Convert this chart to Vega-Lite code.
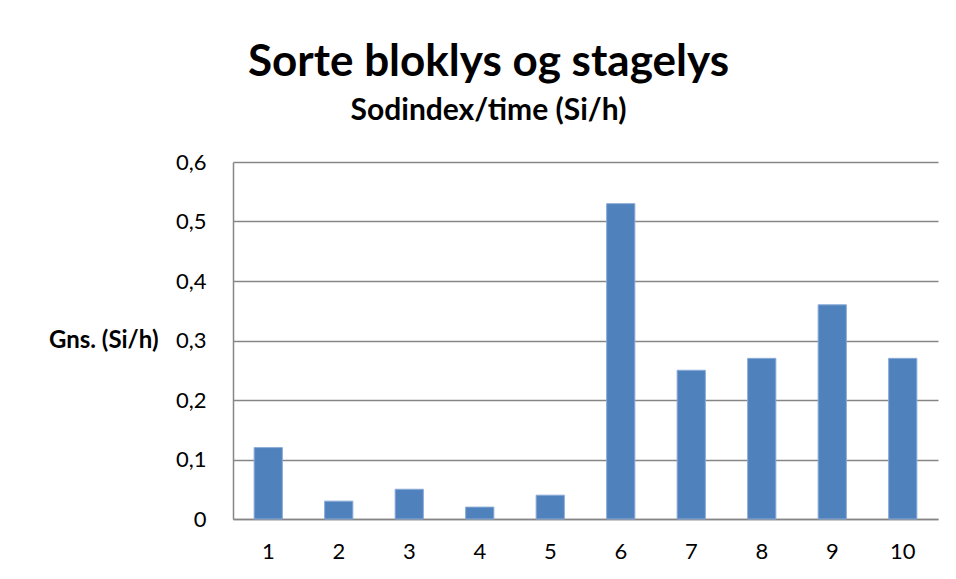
{
  "$schema": "https://vega.github.io/schema/vega-lite/v6.json",
  "width": 705,
  "height": 357,
  "autosize": {"type": "none"},
  "padding": {"left": 233, "top": 162, "right": 18, "bottom": 60},
  "background": "white",
  "data": {"values": [
    {"k": "1", "v": 0.12},
    {"k": "2", "v": 0.03},
    {"k": "3", "v": 0.05},
    {"k": "4", "v": 0.02},
    {"k": "5", "v": 0.04},
    {"k": "6", "v": 0.53},
    {"k": "7", "v": 0.25},
    {"k": "8", "v": 0.27},
    {"k": "9", "v": 0.36},
    {"k": "10", "v": 0.27}
  ]},
  "title": {
    "text": "Sorte bloklys og stagelys",
    "subtitle": "Sodindex/time (Si/h)",
    "anchor": "middle",
    "frame": "group",
    "dx": -97,
    "font": "Lato",
    "fontSize": 44,
    "fontWeight": "bold",
    "color": "black",
    "subtitleFont": "Lato",
    "subtitleFontSize": 30,
    "subtitleFontWeight": "bold",
    "subtitleColor": "black",
    "subtitlePadding": 11,
    "offset": 25
  },
  "mark": {"type": "bar", "color": "#4F81BD", "stroke": "#8AAAD6", "strokeWidth": 1},
  "encoding": {
    "x": {
      "field": "k",
      "type": "ordinal",
      "sort": null,
      "scale": {"paddingInner": 0.6, "paddingOuter": 0.3},
      "axis": {
        "title": null,
        "labelAngle": 0,
        "ticks": false,
        "labelPadding": 22,
        "labelFont": "Lato",
        "labelFontSize": 22,
        "labelColor": "black",
        "domainColor": "#868686",
        "domainWidth": 1.5
      }
    },
    "y": {
      "field": "v",
      "type": "quantitative",
      "scale": {"domain": [0, 0.6]},
      "axis": {
        "title": "Gns. (Si/h)",
        "titleAngle": 0,
        "titleX": -75,
        "titleY": 178,
        "titleAlign": "right",
        "titleBaseline": "middle",
        "titleFont": "Lato",
        "titleFontSize": 24,
        "titleFontWeight": "bold",
        "titleColor": "black",
        "values": [0, 0.1, 0.2, 0.3, 0.4, 0.5, 0.6],
        "labelExpr": "replace(format(datum.value, '~g'), '.', ',')",
        "ticks": false,
        "labelPadding": 27,
        "labelFont": "Lato",
        "labelFontSize": 22,
        "labelColor": "black",
        "domainColor": "#868686",
        "domainWidth": 1.5,
        "grid": true,
        "gridColor": "#868686",
        "gridWidth": 1.5
      }
    }
  },
  "config": {"view": {"stroke": null}}
}
